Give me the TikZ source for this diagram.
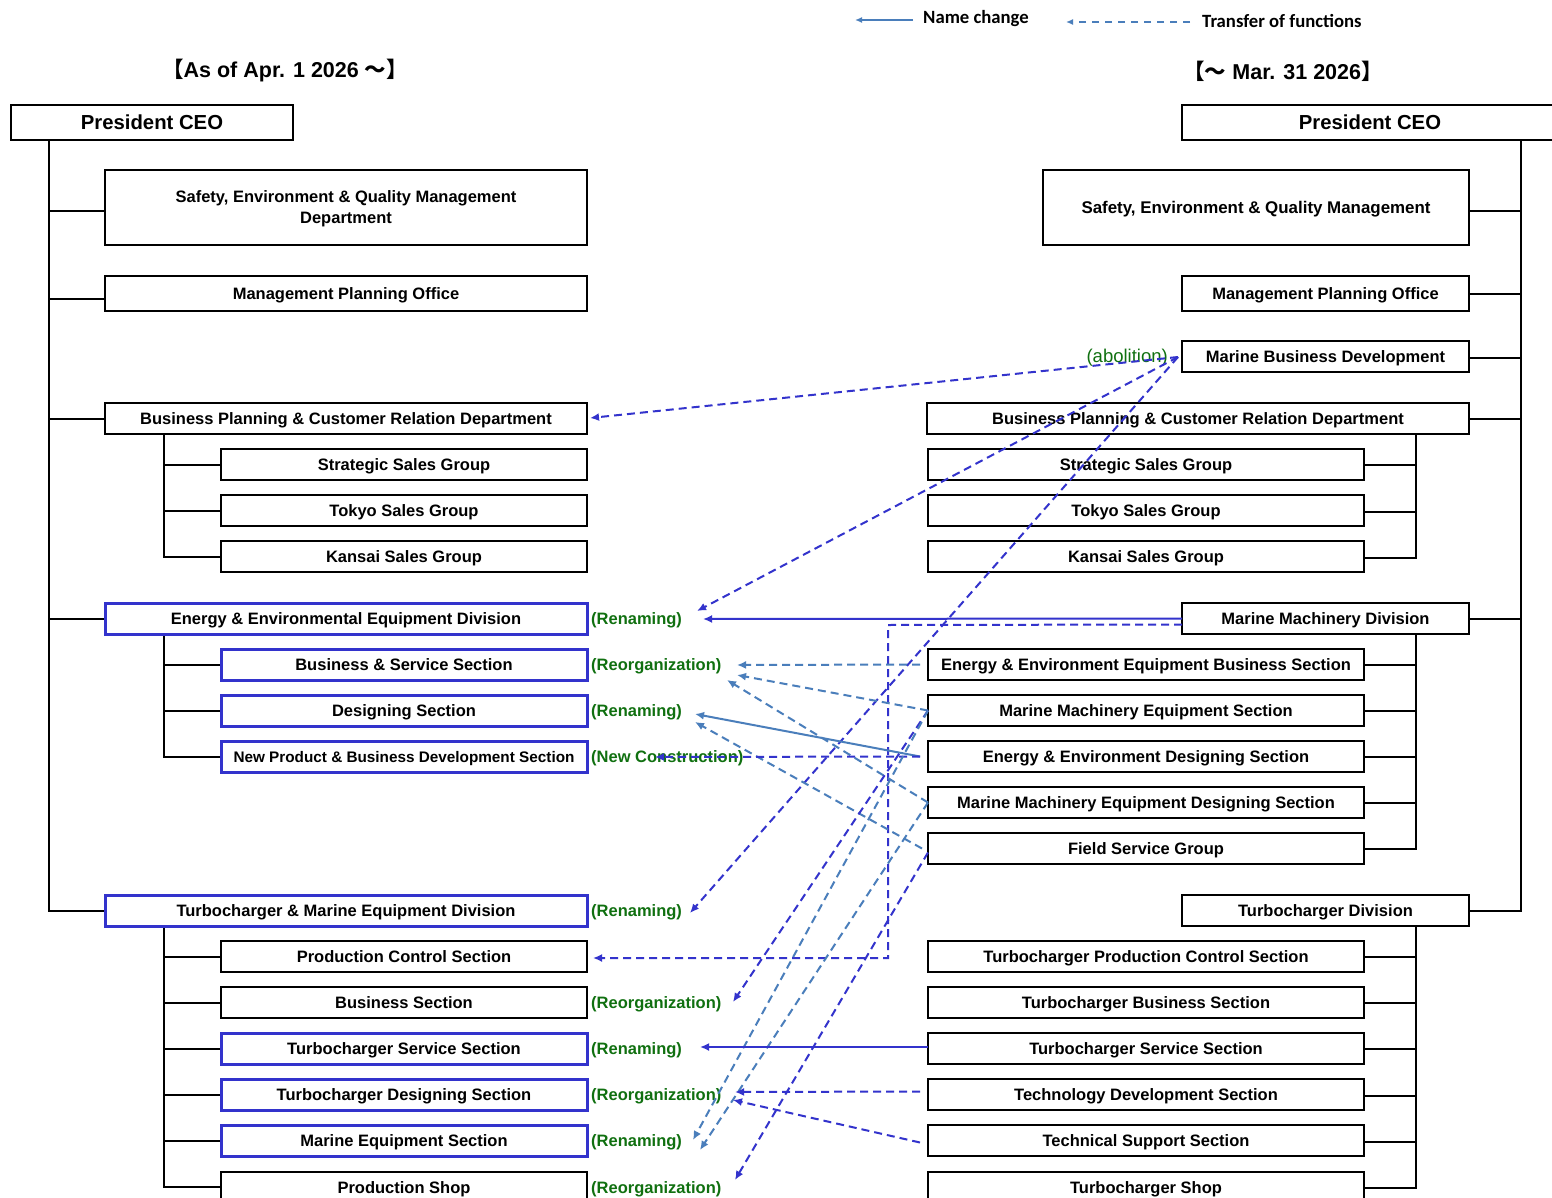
\documentclass[tikz,border=0pt]{standalone}
\usepackage{fontspec}
\setmainfont{Liberation Sans}
\newfontfamily\cjkf{Noto Sans CJK JP}
\newfontfamily\legf{Carlito}
\usetikzlibrary{arrows.meta}
\definecolor{dblue}{RGB}{51,51,204}
\definecolor{lblue}{RGB}{74,126,187}
\definecolor{lgreen}{RGB}{16,112,16}
\tikzset{
  box/.style={draw=black, fill=white, line width=2.6pt, inner sep=0pt, outer sep=0pt, align=center,
    text depth=0pt, font=\bfseries\fontsize{16.5}{21}\selectfont, anchor=north west},
  sbox/.style={box, line width=1.8pt},
  bbox/.style={box, draw=dblue, line width=3pt},
  tree/.style={line width=1.8pt, black},
  lab/.style={anchor=west, inner sep=0pt, text depth=0pt, text=lgreen, font=\bfseries\fontsize{16.5}{20}\selectfont},
  tip/.style={-{Latex[length=9pt,width=8pt]}},
  dd/.style={tip, draw=dblue, line width=2pt, dash pattern=on 8pt off 5pt},
  ld/.style={tip, draw=lblue, line width=2pt, dash pattern=on 8pt off 5pt},
  ds/.style={tip, draw=dblue, line width=2pt},
  ls/.style={tip, draw=lblue, line width=2pt},
}
\newcommand\bx[7]{\node[#2, minimum width={#5-#3}, minimum height={#6-#4}] (#1) at (#3,-#4) {#7};}
\begin{document}
\begin{tikzpicture}[x=1pt,y=1pt]
\useasboundingbox (0,0) rectangle (1552,-1198);
\fill[white] (0,0) rectangle (1552,-1198);

% legend
\coordinate (lg1a) at (913,-20); \coordinate (lg1b) at (855,-20);
\coordinate (lg2a) at (1190,-22); \coordinate (lg2b) at (1066,-22);
\draw[ls, line width=1.6pt, -{Latex[length=7pt,width=6pt]}] (lg1a) -- (lg1b);
\draw[ld, line width=1.6pt, dash pattern=on 7pt off 6pt, -{Latex[length=7pt,width=6pt]}] (lg2a) -- (lg2b);
\node[anchor=west, inner sep=0pt, font=\legf\bfseries\fontsize{18.7}{22}\selectfont] (lgt1) at (923,-19) {Name change};
\node[anchor=west, inner sep=0pt, font=\legf\bfseries\fontsize{18.7}{22}\selectfont] (lgt2) at (1202,-21) {Transfer of functions};

% titles
\node[inner sep=0pt, font=\bfseries\fontsize{21.5}{25}\selectfont] (tl) at (285,-71) {{\cjkf\bfseries 【}As of Apr. 1 2026 {\cjkf\bfseries ～】}};
\node[inner sep=0pt, font=\bfseries\fontsize{21.5}{25}\selectfont] (tr) at (1283,-71) {{\cjkf\bfseries 【～} Mar. 31 2026{\cjkf\bfseries 】}};

% ---------- left tree ----------
\coordinate (LT) at (49,-140);
\coordinate (LS1) at (164,-434);
\coordinate (LS2) at (164,-634);
\coordinate (LS3) at (164,-926);
\draw[tree] (LT) |- (105,-911);
\foreach \y in {211,299,419,619} \draw[tree] (49,-\y) -- (105,-\y);
\draw[tree] (LS1) |- (221,-557);
\foreach \y in {465,511} \draw[tree] (164,-\y) -- (221,-\y);
\draw[tree] (LS2) |- (221,-757);
\foreach \y in {665,711} \draw[tree] (164,-\y) -- (221,-\y);
\draw[tree] (LS3) |- (221,-1187);
\foreach \y in {957,1003,1049,1095,1141} \draw[tree] (164,-\y) -- (221,-\y);

\bx{lceo}{box, font=\bfseries\fontsize{20.3}{24}\selectfont}{11}{105}{293}{140}{President CEO}
\bx{lsafety}{box}{105}{170}{587}{245}{Safety, Environment \& Quality Management\\Department}
\bx{lmpo}{box}{105}{276}{587}{311}{Management Planning Office}
\bx{lbp}{box}{105}{403}{587}{434}{Business Planning \& Customer Relation Department}
\bx{lstr}{sbox}{221}{449}{587}{480}{Strategic Sales Group}
\bx{ltok}{sbox}{221}{495}{587}{526}{Tokyo Sales Group}
\bx{lkan}{sbox}{221}{541}{587}{572}{Kansai Sales Group}
\bx{lee}{bbox}{105}{603}{587}{634}{Energy \& Environmental Equipment Division}
\bx{lbs}{bbox}{221}{649}{587}{680}{Business \& Service Section}
\bx{ldes}{bbox}{221}{695}{587}{726}{Designing Section}
\bx{lnpd}{bbox, font=\bfseries\fontsize{15.3}{18}\selectfont}{221}{741}{587}{772}{New Product \& Business Development Section}
\bx{ltm}{bbox}{105}{895}{587}{926}{Turbocharger \& Marine Equipment Division}
\bx{lpc}{sbox}{221}{941}{587}{972}{Production Control Section}
\bx{lbsec}{sbox}{221}{987}{587}{1018}{Business Section}
\bx{lts}{bbox}{221}{1033}{587}{1064}{Turbocharger Service Section}
\bx{ltd}{bbox}{221}{1079}{587}{1110}{Turbocharger Designing Section}
\bx{lme}{bbox}{221}{1125}{587}{1156}{Marine Equipment Section}
\bx{lps}{sbox}{221}{1172}{587}{1204}{Production Shop}

% labels
\node[lab] (g1) at (591,-619) {(Renaming)};
\node[lab] (g2) at (591,-665) {(Reorganization)};
\node[lab] (g3) at (591,-711) {(Renaming)};
\node[lab] (g4) at (591,-757) {(New Construction)};
\node[lab] (g5) at (591,-911) {(Renaming)};
\node[lab] (g6) at (591,-1003) {(Reorganization)};
\node[lab] (g7) at (591,-1049) {(Renaming)};
\node[lab] (g8) at (591,-1095) {(Reorganization)};
\node[lab] (g9) at (591,-1141) {(Renaming)};
\node[lab] (g10) at (591,-1188) {(Reorganization)};
\node[anchor=east, inner sep=0pt, text depth=0pt, text=lgreen, font=\fontsize{18.5}{20}\selectfont] (gab) at (1168,-356) {(abolition)};

% ---------- right tree ----------
\coordinate (RT) at (1521,-140);
\coordinate (RS1) at (1416,-434);
\coordinate (RS2) at (1416,-634);
\coordinate (RS3) at (1416,-926);
\draw[tree] (RT) |- (1469,-911);
\foreach \y in {211,294,358,419,619} \draw[tree] (1521,-\y) -- (1469,-\y);
\draw[tree] (RS1) |- (1364,-558);
\foreach \y in {465,512} \draw[tree] (1416,-\y) -- (1364,-\y);
\draw[tree] (RS2) |- (1364,-849);
\foreach \y in {665,711,757,803} \draw[tree] (1416,-\y) -- (1364,-\y);
\draw[tree] (RS3) |- (1364,-1188);
\foreach \y in {957,1003,1049,1096,1142} \draw[tree] (1416,-\y) -- (1364,-\y);

\bx{rceo}{box, font=\bfseries\fontsize{20.3}{24}\selectfont}{1182}{105}{1558}{140}{President CEO}
\bx{rsafety}{box, font=\bfseries\fontsize{16.9}{21}\selectfont}{1043}{170}{1469}{245}{Safety, Environment \& Quality Management}
\bx{rmpo}{box}{1182}{276}{1469}{311}{Management Planning Office}
\bx{rmbd}{box}{1182}{341}{1469}{372}{Marine Business Development}
\bx{rbp}{box}{927}{403}{1469}{434}{Business Planning \& Customer Relation Department}
\bx{rstr}{sbox}{928}{449}{1364}{480}{Strategic Sales Group}
\bx{rtok}{sbox}{928}{495}{1364}{526}{Tokyo Sales Group}
\bx{rkan}{sbox}{928}{541}{1364}{572}{Kansai Sales Group}
\bx{rmmd}{box}{1182}{603}{1469}{634}{Marine Machinery Division}
\bx{reeb}{sbox}{928}{649}{1364}{680}{Energy \& Environment Equipment Business Section}
\bx{rmme}{sbox}{928}{695}{1364}{726}{Marine Machinery Equipment Section}
\bx{reed}{sbox}{928}{741}{1364}{772}{Energy \& Environment Designing Section}
\bx{rmmed}{sbox}{928}{787}{1364}{818}{Marine Machinery Equipment Designing Section}
\bx{rfsg}{sbox}{928}{833}{1364}{864}{Field Service Group}
\bx{rtd}{box}{1182}{895}{1469}{926}{Turbocharger Division}
\bx{rtpc}{sbox}{928}{941}{1364}{972}{Turbocharger Production Control Section}
\bx{rtbs}{sbox}{928}{987}{1364}{1018}{Turbocharger Business Section}
\bx{rtss}{sbox}{928}{1033}{1364}{1064}{Turbocharger Service Section}
\bx{rtdev}{sbox}{928}{1079}{1364}{1110}{Technology Development Section}
\bx{rtsup}{sbox}{928}{1125}{1364}{1156}{Technical Support Section}
\bx{rshop}{sbox}{928}{1172}{1364}{1204}{Turbocharger Shop}

% ---------- arrows ----------
\coordinate (s1) at (1178,-357);
\coordinate (e1) at (590,-418);
\coordinate (e2) at (697,-611);
\coordinate (e3) at (690,-913);
\coordinate (e4) at (703,-619);
\coordinate (k5) at (888,-625);
\coordinate (e5) at (593,-958);
\coordinate (e6) at (737,-665);
\coordinate (e7) at (737,-675);
\coordinate (e8) at (727,-680);
\coordinate (e9) at (695,-714);
\coordinate (e10) at (695,-722);
\coordinate (e11) at (655,-757);
\coordinate (e12) at (733,-1002);
\coordinate (e13) at (693,-1140);
\coordinate (e14) at (700,-1150);
\coordinate (e15) at (735,-1180);
\coordinate (e16) at (700,-1047);
\coordinate (e17) at (735,-1092);
\coordinate (e18) at (733,-1100);

\draw[dd] (s1) -- (e1);
\draw[dd] (s1) -- (e2);
\draw[dd] (s1) -- (e3);
\draw[ds] (rmmd.west) -- (e4);
\draw[dd] ([yshift=-6pt]rmmd.west) -- (k5) |- (e5);
\draw[ld] ([xshift=-8pt]reeb.west) -- (e6);
\draw[ld] (rmme.west) -- (e7);
\draw[ld] (rmmed.west) -- (e8);
\draw[ls] ([xshift=-8pt]reed.west) -- (e9);
\draw[ld] ([xshift=-6pt]rfsg.west) -- (e10);
\draw[dd] ([xshift=-8pt]reed.west) -- (e11);
\draw[dd] (rmme.west) -- (e12);
\draw[ld] (rmme.west) -- (e13);
\draw[ld] (rmmed.west) -- (e14);
\draw[dd] ([yshift=-4pt]rfsg.west) -- (e15);
\draw[ds] ([yshift=1.5pt]rtss.west) -- (e16);
\draw[dd] ([xshift=-8pt,yshift=3pt]rtdev.west) -- (e17);
\draw[dd] ([xshift=-8pt,yshift=-2pt]rtsup.west) -- (e18);
\end{tikzpicture}
\end{document}
